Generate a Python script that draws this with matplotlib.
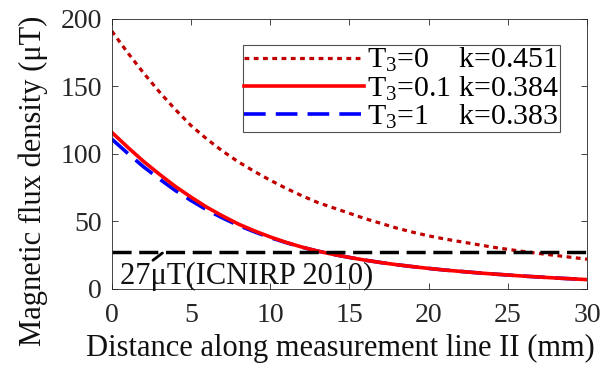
import matplotlib
matplotlib.use("Agg")
import matplotlib.pyplot as plt

plt.rcParams['font.family'] = ['Liberation Serif', 'DejaVu Serif']
plt.rcParams['mathtext.fontset'] = 'custom'
plt.rcParams['mathtext.rm'] = 'Liberation Serif'
plt.rcParams['mathtext.it'] = 'Liberation Serif:italic'

x = list(range(0, 31))
b_t0 = [191, 175, 160, 146, 133, 121, 111, 102, 94, 87, 80.5,
        74.5, 69, 64, 60, 56, 52, 48.5, 45, 42, 39.3,
        37, 35, 33, 31, 29.3, 27.7, 26.2, 24.8, 23.4, 22]
b_t01 = [116, 105, 94.5, 85, 76, 68, 60.5, 54, 48, 43, 38.5,
         34.5, 31, 28, 25.5, 23.3, 21.3, 19.5, 17.9, 16.5, 15.2,
         14, 13, 12, 11.1, 10.3, 9.5, 8.8, 8.1, 7.5, 6.9]
b_t1 = [111, 100.5, 90.5, 81.5, 73, 65.5, 58.5, 52.5, 47, 42.3, 38,
        34.3, 30.9, 28, 25.5, 23.3, 21.3, 19.5, 17.9, 16.5, 15.2,
        14, 13, 12, 11.1, 10.3, 9.5, 8.8, 8.1, 7.5, 7.0]
limit = 27
labels = ['T$_3$=0    k=0.451', 'T$_3$=0.1 k=0.384', 'T$_3$=1    k=0.383']
xticks = [0, 5, 10, 15, 20, 25, 30]
yticks = [0, 50, 100, 150, 200]

fig = plt.figure(figsize=(6.04, 3.69), dpi=100)
ax = fig.add_axes([0.185, 0.217, 0.787, 0.732])

ax.plot(x, b_t0, color='#C00000', lw=2.3, ls=(0, (1.5, 1.4)), label=labels[0], zorder=2.2)
ax.plot(x, b_t1, color='#0000FF', lw=2.6, ls=(0, (6, 2.8)), label=labels[2], zorder=2.0)
ax.plot(x, b_t01, color='#FF0000', lw=2.6, ls='-', label=labels[1], zorder=2.1)
ax.axhline(limit, color='black', lw=2.5, ls=(0, (5.5, 2.2)), zorder=2.3)

ax.annotate('', xy=(3.2, 26.6), xytext=(2.6, 21.2),
            arrowprops=dict(arrowstyle='-', color='black', lw=2, shrinkA=0, shrinkB=0))
ax.text(0.55, 3.6, '27μT(ICNIRP 2010)', fontsize=22, ha='left', va='baseline', color='#111111')

ax.set_xlim(0, 30)
ax.set_ylim(0, 200)
ax.set_xticks(xticks)
ax.set_yticks(yticks)
ax.tick_params(direction='in', top=True, right=True, labelsize=20, colors='#262626',
               length=4, width=0.6)
ax.tick_params(axis='x', pad=10)
ax.tick_params(axis='y', pad=7)
for s in ax.spines.values():
    s.set_color('#262626')
    s.set_linewidth(0.6)

ax.set_xlabel('Distance along measurement line II (mm)', fontsize=22, color='#111111')
ax.set_ylabel('Magnetic flux density (μT)', fontsize=22, color='#111111')
ax.xaxis.set_label_coords(0.48, -0.165)
ax.yaxis.set_label_coords(-0.135, 0.40)

h, l = ax.get_legend_handles_labels()
order = [0, 2, 1]
leg = ax.legend([h[i] for i in order], [l[i] for i in order], loc='upper right',
                bbox_to_anchor=(0.943, 0.904), fontsize=21.5, handlelength=4.0,
                handletextpad=0.1, labelspacing=0.0, borderpad=0.05, borderaxespad=0,
                frameon=True, fancybox=False, edgecolor='#262626')
leg.get_frame().set_linewidth(0.8)

fig.savefig('out.png', dpi=100)
